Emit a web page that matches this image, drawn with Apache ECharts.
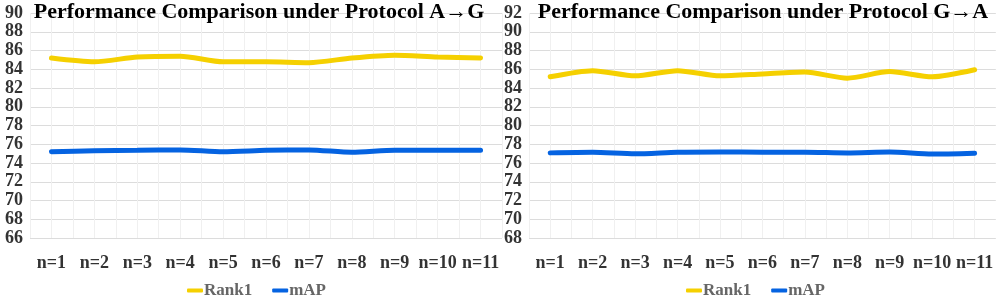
<!DOCTYPE html>
<html>
<head>
<meta charset="utf-8">
<script src="https://cdn.jsdelivr.net/npm/echarts@6/dist/echarts.min.js"></script>
<style>html,body{margin:0;padding:0;background:#fff;}#c{width:996px;height:295px;}</style>
</head>
<body>
<div id="c"></div>
<script>
const categories = ['n=1','n=2','n=3','n=4','n=5','n=6','n=7','n=8','n=9','n=10','n=11'];
const rankAG = [85.2, 84.8, 85.3, 85.4, 84.8, 84.8, 84.7, 85.2, 85.5, 85.3, 85.2];
const mapAG  = [75.2, 75.3, 75.35, 75.4, 75.2, 75.35, 75.4, 75.15, 75.35, 75.35, 75.35];
const rankGA = [85.2, 85.85, 85.3, 85.85, 85.3, 85.5, 85.7, 85.05, 85.75, 85.2, 85.95];
const mapGA  = [77.08, 77.15, 76.98, 77.15, 77.18, 77.15, 77.15, 77.08, 77.18, 76.95, 77.05];
const titles = ['Performance Comparison under Protocol A\u2192G', 'Performance Comparison under Protocol G\u2192A'];
const seriesNames = ['Rank1', 'mAP'];
const yRangeAG = [66, 90];
const yRangeGA = [68, 92];

const YELLOW = '#F5D000', BLUE = '#0563E1';
const font = 'Liberation Serif';
const chart = echarts.init(document.getElementById('c'));

function catAxis(gi) {
  return { type: 'category', gridIndex: gi, data: categories, boundaryGap: true,
    axisLine: {show: false}, axisTick: {show: false}, splitLine: {show: false},
    axisLabel: {interval: 0, fontFamily: font, fontWeight: 'bold', fontSize: 18, color: '#333', margin: 16} };
}
function helperAxis(gi) {
  return { type: 'value', gridIndex: gi, min: 0, max: categories.length, interval: 0.5,
    axisLine: {show: false}, axisTick: {show: false}, axisLabel: {show: false},
    splitLine: {show: true, lineStyle: {color: '#f0f0f0', width: 1}} };
}
function valAxis(gi, r) {
  return { type: 'value', gridIndex: gi, min: r[0], max: r[1], interval: 2,
    axisLine: {show: false}, axisTick: {show: false},
    axisLabel: {fontFamily: font, fontWeight: 'bold', fontSize: 18, color: '#333', margin: 7},
    splitLine: {lineStyle: {color: '#dcdcdc', width: 1}} };
}
function line(name, data, xi, yi, color) {
  return { name, type: 'line', data, xAxisIndex: xi, yAxisIndex: yi, smooth: 0.25,
    symbol: 'none', lineStyle: {color, width: 5, cap: 'round'}, itemStyle: {color} };
}
function legend(cx) {
  return { data: seriesNames, left: cx, top: 277, icon: 'roundRect', itemWidth: 16, itemHeight: 4,
    itemGap: 20, textStyle: {fontFamily: font, fontWeight: 'bold', fontSize: 17, color: '#666', padding: [0,0,0,-4]} };
}

chart.setOption({
  animation: false,
  title: [
    { text: titles[0], left: 254, textAlign: 'center', top: -4,
      textStyle: {fontFamily: font, fontWeight: 'bold', fontSize: 22, color: '#000'} },
    { text: titles[1], left: 758, textAlign: 'center', top: -4,
      textStyle: {fontFamily: font, fontWeight: 'bold', fontSize: 22, color: '#000'} }
  ],
  legend: [ legend(182), legend(681) ],
  grid: [
    { left: 30, top: 13, width: 472, height: 225 },
    { left: 529, top: 13, width: 472, height: 225 }
  ],
  xAxis: [catAxis(0), catAxis(1), helperAxis(0), helperAxis(1)],
  yAxis: [valAxis(0, yRangeAG), valAxis(1, yRangeGA)],
  series: [
    line(seriesNames[0], rankAG, 0, 0, YELLOW),
    line(seriesNames[1], mapAG, 0, 0, BLUE),
    line(seriesNames[0], rankGA, 1, 1, YELLOW),
    line(seriesNames[1], mapGA, 1, 1, BLUE)
  ]
});
</script>
</body>
</html>
